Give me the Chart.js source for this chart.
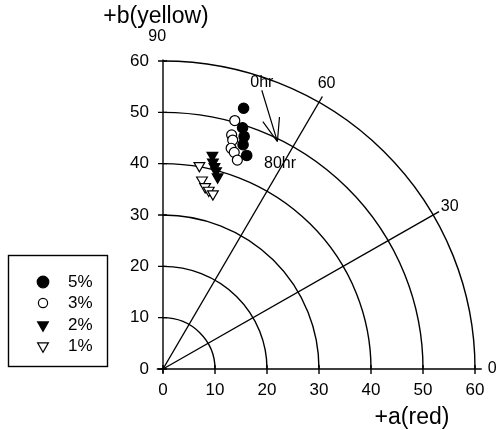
<!DOCTYPE html>
<html>
<head>
<meta charset="utf-8">
<script src="https://cdn.jsdelivr.net/npm/chart.js@4/dist/chart.umd.min.js"></script>
<style>
  html, body { margin: 0; padding: 0; background: #fff; }
  #wrap { width: 498px; height: 430px; position: relative; }
</style>
</head>
<body>
<div id="wrap"><canvas id="chart"></canvas></div>
<script>
const FONT = "'Liberation Sans', Arial, sans-serif";

// values (a = red axis, b = yellow axis)
const seriesNames = ["5%", "3%", "2%", "1%"];
const fiveA = [15.5, 15.3, 15.6, 15.4, 16.1];
const fiveB = [50.8, 47.0, 45.3, 43.7, 41.6];
const threeA = [13.8, 13.2, 13.4, 13.1, 13.7, 14.3];
const threeB = [48.4, 45.6, 44.6, 43.0, 42.2, 40.7];
const twoA = [9.5, 9.6, 9.9, 10.2, 10.5];
const twoB = [41.6, 40.3, 39.4, 38.6, 37.4];
const oneA = [7.0, 7.5, 8.1, 8.8, 9.6];
const oneB = [39.6, 36.8, 35.5, 34.8, 34.1];

const tickValues = [0, 10, 20, 30, 40, 50, 60];
const ringRadii = [10, 20, 30, 40, 50, 60];
const spokeAngles = [30, 60];
const spokeLength = 61.3;
const angleLabels = ["0", "30", "60", "90"];
const angleLabelPos = [[0, 63.3], [29.9, 63.6], [60.5, 63.9], [91, 64.7]];

// drift arrow 0hr -> 80hr
const arrowFrom = [19.0, 54.3];
const arrowTo = [22.0, 44.3];
const arrowBarbs = [[19.2, 48.2], [22.4, 49.1]];
const arrowLabels = [["0hr", 19.0, 55.7], ["80hr", 22.5, 40.0]];

function pts(a, b) { return a.map((v, i) => ({ x: v, y: b[i] })); }

const styles = [
  { pointStyle: "circle", pointRadius: 5.2, backgroundColor: "#000", borderColor: "#000", pointRotation: 0 },
  { pointStyle: "circle", pointRadius: 5, backgroundColor: "#fff", borderColor: "#000", pointRotation: 0 },
  { pointStyle: "triangle", pointRadius: 6.2, backgroundColor: "#000", borderColor: "#000", pointRotation: 180 },
  { pointStyle: "triangle", pointRadius: 6.2, backgroundColor: "#fff", borderColor: "#000", pointRotation: 180 }
];
const seriesData = [pts(fiveA, fiveB), pts(threeA, threeB), pts(twoA, twoB), pts(oneA, oneB)];

const polarGrid = {
  id: "polarGrid",
  beforeDatasetsDraw(chart) {
    const { ctx, scales: { x, y } } = chart;
    const ox = x.getPixelForValue(0), oy = y.getPixelForValue(0);
    const kx = x.getPixelForValue(1) - ox, ky = oy - y.getPixelForValue(1);
    ctx.save();
    ctx.strokeStyle = "#000";
    ctx.lineWidth = 1.4;
    ringRadii.forEach(r => {
      ctx.beginPath();
      ctx.ellipse(ox, oy, r * kx, r * ky, 0, -Math.PI / 2, 0);
      ctx.stroke();
    });
    spokeAngles.forEach(deg => {
      const t = deg * Math.PI / 180;
      ctx.beginPath();
      ctx.moveTo(ox, oy);
      ctx.lineTo(ox + spokeLength * Math.cos(t) * kx, oy - spokeLength * Math.sin(t) * ky);
      ctx.stroke();
    });
    // axes
    ctx.beginPath();
    ctx.moveTo(x.getPixelForValue(-1.2), oy);
    ctx.lineTo(x.getPixelForValue(61.3), oy);
    ctx.moveTo(ox, y.getPixelForValue(-0.8));
    ctx.lineTo(ox, y.getPixelForValue(60.3));
    ctx.stroke();
    tickValues.forEach(v => {
      const px = x.getPixelForValue(v), py = y.getPixelForValue(v);
      ctx.beginPath();
      ctx.moveTo(px, oy - 4); ctx.lineTo(px, oy + 5);
      ctx.moveTo(ox - 5, py); ctx.lineTo(ox + 4, py);
      ctx.stroke();
    });
    // arrow
    const P = p => [x.getPixelForValue(p[0]), y.getPixelForValue(p[1])];
    const f = P(arrowFrom), to = P(arrowTo);
    ctx.lineWidth = 1.2;
    ctx.beginPath();
    ctx.moveTo(f[0], f[1]); ctx.lineTo(to[0], to[1]);
    arrowBarbs.forEach(b => { const q = P(b); ctx.moveTo(q[0], q[1]); ctx.lineTo(to[0], to[1]); });
    ctx.stroke();
    ctx.restore();
  },
  afterDraw(chart) {
    const { ctx, scales: { x, y } } = chart;
    ctx.save();
    ctx.fillStyle = "#000";
    ctx.textAlign = "center";
    ctx.textBaseline = "middle";
    ctx.font = "16px " + FONT;
    angleLabels.forEach((txt, i) => {
      const t = angleLabelPos[i][0] * Math.PI / 180, r = angleLabelPos[i][1];
      ctx.fillText(txt, x.getPixelForValue(r * Math.cos(t)), y.getPixelForValue(r * Math.sin(t)));
    });
    arrowLabels.forEach(([txt, a, b]) => ctx.fillText(txt, x.getPixelForValue(a), y.getPixelForValue(b)));
    // axis titles
    ctx.textBaseline = "alphabetic";
    ctx.font = "23px " + FONT;
    ctx.fillText("+b(yellow)", 156, 23);
    ctx.fillText("+a(red)", 412, 424);
    // legend
    ctx.lineWidth = 1.4;
    ctx.strokeStyle = "#000";
    ctx.strokeRect(8.5, 255.5, 99, 111);
    const rows = [282, 303, 325, 346];
    ctx.font = "17px " + FONT;
    ctx.textAlign = "left";
    ctx.textBaseline = "middle";
    seriesNames.forEach((name, i) => {
      const s = styles[i], cx = 43, cy = rows[i];
      ctx.fillStyle = s.backgroundColor;
      ctx.lineWidth = 1.2;
      ctx.beginPath();
      if (s.pointStyle === "circle") {
        ctx.arc(cx, cy, i === 0 ? 5.8 : 4.6, 0, Math.PI * 2);
      } else {
        const r = s.pointRadius;
        ctx.moveTo(cx - r * 0.866, cy - r * 0.5);
        ctx.lineTo(cx + r * 0.866, cy - r * 0.5);
        ctx.lineTo(cx, cy + r);
        ctx.closePath();
      }
      ctx.fill();
      ctx.stroke();
      ctx.fillStyle = "#000";
      ctx.fillText(name, 68, cy);
    });
    ctx.restore();
  }
};

new Chart(document.getElementById("chart"), {
  type: "scatter",
  data: {
    datasets: seriesData.map((d, i) => Object.assign({
      label: seriesNames[i],
      data: d,
      borderWidth: 1.2,
      pointHoverRadius: 5
    }, styles[i]))
  },
  options: {
    responsive: true,
    maintainAspectRatio: false,
    animation: false,
    layout: { padding: { left: 0, right: 23, top: 61, bottom: 0 } },
    plugins: { legend: { display: false }, tooltip: { enabled: false } },
    scales: {
      x: {
        type: "linear", min: 0, max: 60,
        afterFit: s => { s.height = 61; },
        grid: { display: false, drawTicks: false },
        border: { display: false },
        ticks: { stepSize: 10, padding: 11, color: "#000", font: { family: FONT, size: 17 } }
      },
      y: {
        type: "linear", min: 0, max: 60,
        afterFit: s => { s.width = 163; },
        grid: { display: false, drawTicks: false },
        border: { display: false },
        ticks: { stepSize: 10, padding: 14, color: "#000", font: { family: FONT, size: 17 } }
      }
    }
  },
  plugins: [polarGrid]
});
</script>
</body>
</html>
